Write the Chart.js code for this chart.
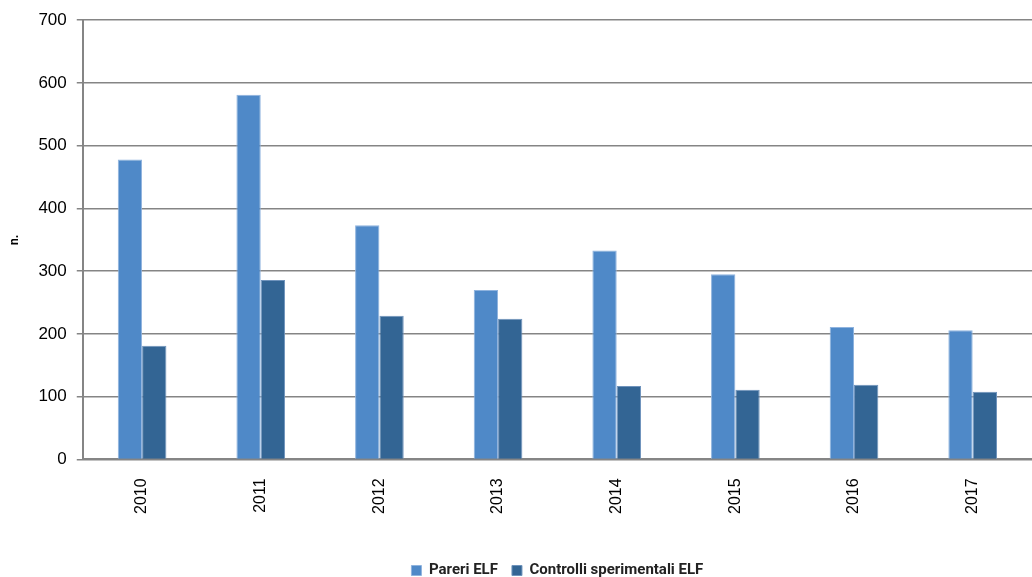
<!DOCTYPE html>
<html>
<head>
<meta charset="utf-8">
<script src="https://cdn.jsdelivr.net/npm/chart.js@4"></script>
<style>
  body { margin: 0; background: #fff; }
  #wrap { width: 1032px; height: 577px; }
</style>
</head>
<body>
<div id="wrap"><canvas id="bieuDo" width="1032" height="577"></canvas></div>
<script>
// dati
const anni = ["2010", "2011", "2012", "2013", "2014", "2015", "2016", "2017"];
const pareriELF = [478, 581, 373, 270, 333, 295, 211, 206];
const controlliELF = [181, 286, 229, 224, 117, 111, 119, 108];
const yTicks = [0, 100, 200, 300, 400, 500, 600, 700];

const grigio = "#858585";

new Chart(document.getElementById("bieuDo"), {
    type: "bar",
    data: {
        labels: anni,
        datasets: [
            {
                label: "Pareri ELF",
                data: pareriELF,
                backgroundColor: "#4F89C8",
                borderColor: "#8FB3DE",
                borderWidth: 1,
            },
            {
                label: "Controlli sperimentali ELF",
                data: controlliELF,
                backgroundColor: "#336594",
                borderColor: "#6F93BC",
                borderWidth: 1,
            },
        ],
    },
    options: {
        responsive: false,
        animation: false,
        layout: { padding: { top: 8, right: 0, left: 8, bottom: -11 } },
        datasets: {
            bar: { categoryPercentage: 0.41, barPercentage: 1 },
        },
        plugins: {
            legend: {
                position: "bottom",
                fullSize: false,
                labels: {
                    boxWidth: 10,
                    boxHeight: 10,
                    padding: 14,
                    color: "#222",
                    font: { family: "Roboto", size: 15, weight: "bold" },
                },
            },
            tooltip: { enabled: false },
        },
        scales: {
            x: {
                grid: { display: false, drawTicks: false },
                border: { display: true, color: grigio, width: 2 },
                ticks: {
                    minRotation: 90,
                    maxRotation: 90,
                    padding: 19,
                    color: "#000",
                    font: { family: "Liberation Sans", size: 16 },
                },
                afterFit: (scale) => { scale.height += 16; },
            },
            y: {
                min: 0,
                max: 700,
                afterBuildTicks: (scale) => {
                    scale.ticks = yTicks.map((v) => ({ value: v }));
                },
                grid: { color: grigio, lineWidth: 1.5, tickLength: 6 },
                border: { display: true, color: grigio, width: 2 },
                ticks: {
                    padding: 10,
                    color: "#000",
                    font: { family: "Liberation Sans", size: 17 },
                },
                title: {
                    display: true,
                    text: "n.",
                    color: "#000",
                    padding: { top: 0, bottom: 6 },
                    font: { family: "Roboto", size: 12, weight: "bold" },
                },
            },
        },
    },
});
</script>
</body>
</html>
